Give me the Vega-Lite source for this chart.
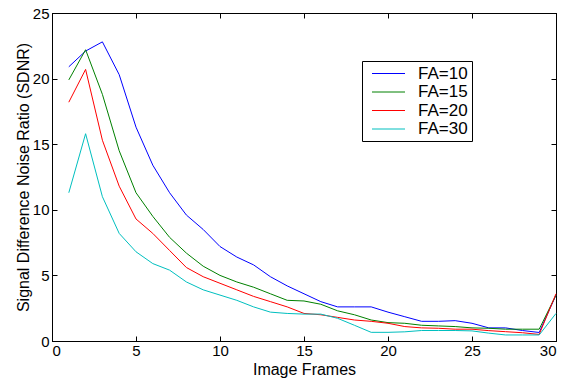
{
  "$schema": "https://vega.github.io/schema/vega-lite/v6.json",
  "width": 504,
  "height": 328,
  "autosize": "none",
  "padding": {"left": 52, "top": 13, "right": 5, "bottom": 38},
  "background": "white",
  "config": {
    "font": "Liberation Sans",
    "view": {"stroke": "black", "strokeWidth": 1},
    "axis": {
      "grid": false,
      "domainColor": "black",
      "tickColor": "black",
      "tickSize": -5,
      "labelColor": "black",
      "titleColor": "black",
      "labelFontSize": 15,
      "titleFontSize": 16,
      "titleFontWeight": "normal",
      "labelFont": "Liberation Sans",
      "titleFont": "Liberation Sans"
    },
    "legend": {
      "orient": "none",
      "legendX": 310,
      "legendY": 48,
      "strokeColor": "black",
      "fillColor": "white",
      "padding": 4,
      "symbolType": "M-3,0H3",
      "symbolSize": 121,
      "symbolStrokeWidth": 1,
      "symbolOffset": 14,
      "labelOffset": 21,
      "labelFontSize": 17,
      "labelFont": "Liberation Sans",
      "labelColor": "black",
      "rowPadding": 0.5
    }
  },
  "data": {
    "values": [
      {"frame": 1, "sdnr": 20.9, "series": "FA=10"},
      {"frame": 2, "sdnr": 22.1, "series": "FA=10"},
      {"frame": 3, "sdnr": 22.8, "series": "FA=10"},
      {"frame": 4, "sdnr": 20.3, "series": "FA=10"},
      {"frame": 5, "sdnr": 16.3, "series": "FA=10"},
      {"frame": 6, "sdnr": 13.4, "series": "FA=10"},
      {"frame": 7, "sdnr": 11.3, "series": "FA=10"},
      {"frame": 8, "sdnr": 9.6, "series": "FA=10"},
      {"frame": 9, "sdnr": 8.5, "series": "FA=10"},
      {"frame": 10, "sdnr": 7.2, "series": "FA=10"},
      {"frame": 11, "sdnr": 6.4, "series": "FA=10"},
      {"frame": 12, "sdnr": 5.8, "series": "FA=10"},
      {"frame": 13, "sdnr": 4.9, "series": "FA=10"},
      {"frame": 14, "sdnr": 4.2, "series": "FA=10"},
      {"frame": 15, "sdnr": 3.6, "series": "FA=10"},
      {"frame": 16, "sdnr": 3.0, "series": "FA=10"},
      {"frame": 17, "sdnr": 2.6, "series": "FA=10"},
      {"frame": 18, "sdnr": 2.6, "series": "FA=10"},
      {"frame": 19, "sdnr": 2.6, "series": "FA=10"},
      {"frame": 20, "sdnr": 2.2, "series": "FA=10"},
      {"frame": 21, "sdnr": 1.85, "series": "FA=10"},
      {"frame": 22, "sdnr": 1.5, "series": "FA=10"},
      {"frame": 23, "sdnr": 1.5, "series": "FA=10"},
      {"frame": 24, "sdnr": 1.55, "series": "FA=10"},
      {"frame": 25, "sdnr": 1.35, "series": "FA=10"},
      {"frame": 26, "sdnr": 1.0, "series": "FA=10"},
      {"frame": 27, "sdnr": 1.0, "series": "FA=10"},
      {"frame": 28, "sdnr": 0.8, "series": "FA=10"},
      {"frame": 29, "sdnr": 0.65, "series": "FA=10"},
      {"frame": 30, "sdnr": 3.5, "series": "FA=10"},
      {"frame": 1, "sdnr": 19.9, "series": "FA=15"},
      {"frame": 2, "sdnr": 22.2, "series": "FA=15"},
      {"frame": 3, "sdnr": 18.8, "series": "FA=15"},
      {"frame": 4, "sdnr": 14.5, "series": "FA=15"},
      {"frame": 5, "sdnr": 11.3, "series": "FA=15"},
      {"frame": 6, "sdnr": 9.5, "series": "FA=15"},
      {"frame": 7, "sdnr": 7.9, "series": "FA=15"},
      {"frame": 8, "sdnr": 6.7, "series": "FA=15"},
      {"frame": 9, "sdnr": 5.7, "series": "FA=15"},
      {"frame": 10, "sdnr": 5.0, "series": "FA=15"},
      {"frame": 11, "sdnr": 4.5, "series": "FA=15"},
      {"frame": 12, "sdnr": 4.1, "series": "FA=15"},
      {"frame": 13, "sdnr": 3.6, "series": "FA=15"},
      {"frame": 14, "sdnr": 3.1, "series": "FA=15"},
      {"frame": 15, "sdnr": 3.05, "series": "FA=15"},
      {"frame": 16, "sdnr": 2.8, "series": "FA=15"},
      {"frame": 17, "sdnr": 2.3, "series": "FA=15"},
      {"frame": 18, "sdnr": 2.0, "series": "FA=15"},
      {"frame": 19, "sdnr": 1.6, "series": "FA=15"},
      {"frame": 20, "sdnr": 1.4, "series": "FA=15"},
      {"frame": 21, "sdnr": 1.35, "series": "FA=15"},
      {"frame": 22, "sdnr": 1.2, "series": "FA=15"},
      {"frame": 23, "sdnr": 1.15, "series": "FA=15"},
      {"frame": 24, "sdnr": 1.1, "series": "FA=15"},
      {"frame": 25, "sdnr": 1.0, "series": "FA=15"},
      {"frame": 26, "sdnr": 0.97, "series": "FA=15"},
      {"frame": 27, "sdnr": 0.9, "series": "FA=15"},
      {"frame": 28, "sdnr": 0.9, "series": "FA=15"},
      {"frame": 29, "sdnr": 0.9, "series": "FA=15"},
      {"frame": 30, "sdnr": 3.5, "series": "FA=15"},
      {"frame": 1, "sdnr": 18.2, "series": "FA=20"},
      {"frame": 2, "sdnr": 20.7, "series": "FA=20"},
      {"frame": 3, "sdnr": 15.3, "series": "FA=20"},
      {"frame": 4, "sdnr": 11.8, "series": "FA=20"},
      {"frame": 5, "sdnr": 9.3, "series": "FA=20"},
      {"frame": 6, "sdnr": 8.2, "series": "FA=20"},
      {"frame": 7, "sdnr": 6.9, "series": "FA=20"},
      {"frame": 8, "sdnr": 5.6, "series": "FA=20"},
      {"frame": 9, "sdnr": 4.9, "series": "FA=20"},
      {"frame": 10, "sdnr": 4.4, "series": "FA=20"},
      {"frame": 11, "sdnr": 3.9, "series": "FA=20"},
      {"frame": 12, "sdnr": 3.4, "series": "FA=20"},
      {"frame": 13, "sdnr": 3.0, "series": "FA=20"},
      {"frame": 14, "sdnr": 2.6, "series": "FA=20"},
      {"frame": 15, "sdnr": 2.1, "series": "FA=20"},
      {"frame": 16, "sdnr": 2.0, "series": "FA=20"},
      {"frame": 17, "sdnr": 1.8, "series": "FA=20"},
      {"frame": 18, "sdnr": 1.6, "series": "FA=20"},
      {"frame": 19, "sdnr": 1.5, "series": "FA=20"},
      {"frame": 20, "sdnr": 1.35, "series": "FA=20"},
      {"frame": 21, "sdnr": 1.1, "series": "FA=20"},
      {"frame": 22, "sdnr": 1.0, "series": "FA=20"},
      {"frame": 23, "sdnr": 0.97, "series": "FA=20"},
      {"frame": 24, "sdnr": 0.9, "series": "FA=20"},
      {"frame": 25, "sdnr": 0.9, "series": "FA=20"},
      {"frame": 26, "sdnr": 0.79, "series": "FA=20"},
      {"frame": 27, "sdnr": 0.71, "series": "FA=20"},
      {"frame": 28, "sdnr": 0.63, "series": "FA=20"},
      {"frame": 29, "sdnr": 0.5, "series": "FA=20"},
      {"frame": 30, "sdnr": 3.6, "series": "FA=20"},
      {"frame": 1, "sdnr": 11.3, "series": "FA=30"},
      {"frame": 2, "sdnr": 15.8, "series": "FA=30"},
      {"frame": 3, "sdnr": 11.0, "series": "FA=30"},
      {"frame": 4, "sdnr": 8.2, "series": "FA=30"},
      {"frame": 5, "sdnr": 6.8, "series": "FA=30"},
      {"frame": 6, "sdnr": 5.9, "series": "FA=30"},
      {"frame": 7, "sdnr": 5.4, "series": "FA=30"},
      {"frame": 8, "sdnr": 4.5, "series": "FA=30"},
      {"frame": 9, "sdnr": 3.9, "series": "FA=30"},
      {"frame": 10, "sdnr": 3.5, "series": "FA=30"},
      {"frame": 11, "sdnr": 3.1, "series": "FA=30"},
      {"frame": 12, "sdnr": 2.6, "series": "FA=30"},
      {"frame": 13, "sdnr": 2.2, "series": "FA=30"},
      {"frame": 14, "sdnr": 2.1, "series": "FA=30"},
      {"frame": 15, "sdnr": 2.05, "series": "FA=30"},
      {"frame": 16, "sdnr": 2.05, "series": "FA=30"},
      {"frame": 17, "sdnr": 1.73, "series": "FA=30"},
      {"frame": 18, "sdnr": 1.2, "series": "FA=30"},
      {"frame": 19, "sdnr": 0.66, "series": "FA=30"},
      {"frame": 20, "sdnr": 0.66, "series": "FA=30"},
      {"frame": 21, "sdnr": 0.7, "series": "FA=30"},
      {"frame": 22, "sdnr": 0.8, "series": "FA=30"},
      {"frame": 23, "sdnr": 0.8, "series": "FA=30"},
      {"frame": 24, "sdnr": 0.8, "series": "FA=30"},
      {"frame": 25, "sdnr": 0.77, "series": "FA=30"},
      {"frame": 26, "sdnr": 0.6, "series": "FA=30"},
      {"frame": 27, "sdnr": 0.46, "series": "FA=30"},
      {"frame": 28, "sdnr": 0.46, "series": "FA=30"},
      {"frame": 29, "sdnr": 0.46, "series": "FA=30"},
      {"frame": 30, "sdnr": 2.1, "series": "FA=30"}
    ]
  },
  "layer": [
    {
      "mark": {"type": "line", "strokeWidth": 1},
      "encoding": {
        "x": {
          "field": "frame", "type": "quantitative",
          "scale": {"domain": [0, 30], "nice": false},
          "axis": {"orient": "bottom", "values": [0, 5, 10, 15, 20, 25, 30], "title": "Image Frames", "labelPadding": 7, "titlePadding": 3}
        },
        "y": {
          "field": "sdnr", "type": "quantitative",
          "scale": {"domain": [0, 25], "nice": false},
          "axis": {"orient": "left", "values": [0, 5, 10, 15, 20, 25], "title": "Signal Difference Noise Ratio (SDNR)", "labelPadding": 8, "titlePadding": 1}
        },
        "color": {
          "field": "series", "type": "nominal",
          "scale": {"domain": ["FA=10", "FA=15", "FA=20", "FA=30"], "range": ["#0000FF", "#008000", "#FF0000", "#00BFBF"]},
          "legend": {"title": null}
        }
      }
    },
    {
      "mark": {"type": "point", "opacity": 0},
      "encoding": {
        "x": {
          "field": "frame", "type": "quantitative",
          "axis": {"orient": "top", "values": [0, 5, 10, 15, 20, 25, 30], "labels": false, "title": null}
        },
        "y": {
          "field": "sdnr", "type": "quantitative",
          "axis": {"orient": "right", "values": [0, 5, 10, 15, 20, 25], "labels": false, "title": null}
        }
      }
    }
  ],
  "resolve": {"axis": {"x": "independent", "y": "independent"}}
}
